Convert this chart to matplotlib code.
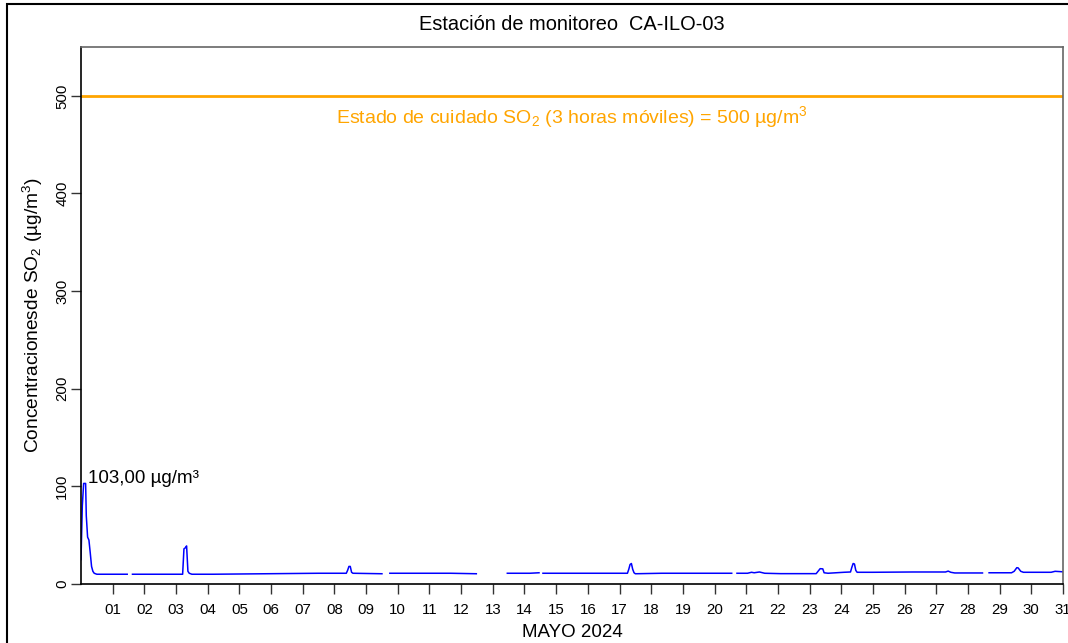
import matplotlib
matplotlib.use("Agg")
import matplotlib.pyplot as plt
import numpy as np
from matplotlib.patches import Rectangle

plt.rcParams['font.family'] = ['Liberation Sans', 'DejaVu Sans']
plt.rcParams['mathtext.fontset'] = 'custom'
plt.rcParams['mathtext.rm'] = 'Liberation Sans'
plt.rcParams['mathtext.it'] = 'Liberation Sans'

# hourly breakpoints (hours since 1 May 00:00), NaN = missing data
hours = [0, 1, 2, 3.5, 4, 5, 6, 7, 8, 9, 10, 12, 20, 35,
         36.5,
         39, 60, 77, 78, 79, 80, 81, 82, 84, 100, 140, 180, 201, 202, 203, 204, 205, 206, 228,
         230,
         234, 260, 280, 299.5,
         310,
         323, 340, 347,
         348.5,
         350, 380, 414, 415, 416, 417, 418, 419, 420, 440, 470, 493,
         495,
         497, 505, 508, 510, 514, 518, 530, 557, 559, 560, 562, 563, 566, 578, 583, 584, 585,
         586, 587, 588, 590, 600, 630, 655, 657, 659, 662, 683,
         685,
         688, 705, 707, 709, 710, 712, 714, 720, 735, 738, 744]
so2 = [25, 80, 103, 103, 70, 48, 45, 32, 18, 13, 11, 10, 10, 10,
       np.nan,
       10, 10, 10, 36, 37, 39, 13, 11, 10, 10, 10.5, 11, 11, 14, 18, 18, 12, 11, 10.5,
       np.nan,
       11, 11, 11, 10.5,
       np.nan,
       11, 11, 11.5,
       np.nan,
       11, 11, 11, 15, 20, 21, 15, 11.5, 10.5, 11, 11, 11,
       np.nan,
       11, 11, 12, 11.5, 12.3, 11, 10.6, 10.6, 14, 15.7, 15.5, 11.5, 11, 12, 12.3, 17, 21,
       20.5, 14, 12, 12, 12, 12.3, 12.3, 13.2, 12, 11.3, 11.3,
       np.nan,
       11.5, 11.5, 13, 16.7, 16.5, 13, 12, 12, 12, 13, 12.5]

days = np.arange(1, 32)
day_labels = ['%02d' % d for d in days]
peak_value = 103.0
threshold = 500

fig = plt.figure(figsize=(10.68, 6.43), dpi=100)
ax = fig.add_axes([81 / 1068, 1 - 584 / 643, (1063 - 81) / 1068, (584 - 47) / 643])

# outer frame (runs off the right and bottom edges)
fig.patches.append(Rectangle((7 / 1068, -0.1), 1.2, 1 - 4.5 / 643 + 0.1,
                             transform=fig.transFigure, fill=False,
                             edgecolor='black', linewidth=1.5, clip_on=False))

x = np.array(hours) / 24.0
ax.plot(x, so2, color='#0000FF', linewidth=1.1)
ax.axhline(threshold, color='#FFA500', linewidth=2)
ax.text(15.5, 478, 'Estado de cuidado SO$_2$ (3 horas móviles) = 500 µg/m$^3$',
        color='#FFA500', fontsize=14, ha='center', va='center')
peak_label = ('%.2f' % peak_value).replace('.', ',') + ' µg/m³'
ax.text(0.22, 108.5, peak_label, fontsize=13.5, ha='left', va='center')

ax.set_xlim(0, 31)
ax.set_ylim(0, 550)
ax.set_xticks(days)
ax.set_xticklabels(day_labels)
ax.set_yticks([0, 100, 200, 300, 400, 500])
ax.tick_params(axis='both', direction='out', length=7.5, width=1, labelsize=10.8, color='#333333')
ax.tick_params(axis='y', labelrotation=90, pad=1)
ax.tick_params(axis='x', pad=6)
for lbl in ax.get_yticklabels():
    lbl.set_va('center')

ax.spines['left'].set_color('black')
ax.spines['bottom'].set_color('black')
ax.spines['top'].set_color('#666666')
ax.spines['right'].set_color('#666666')
for s in ax.spines.values():
    s.set_linewidth(1.2)

ax.set_title('Estación de monitoreo  CA-ILO-03', fontsize=14.4, pad=12)
ax.set_xlabel('MAYO 2024', fontsize=13.5, labelpad=5)
ax.set_ylabel('Concentracionesde SO$_2$ (µg/m$^3$)', fontsize=13.8, labelpad=7)

fig.savefig('out.png', dpi=100)
